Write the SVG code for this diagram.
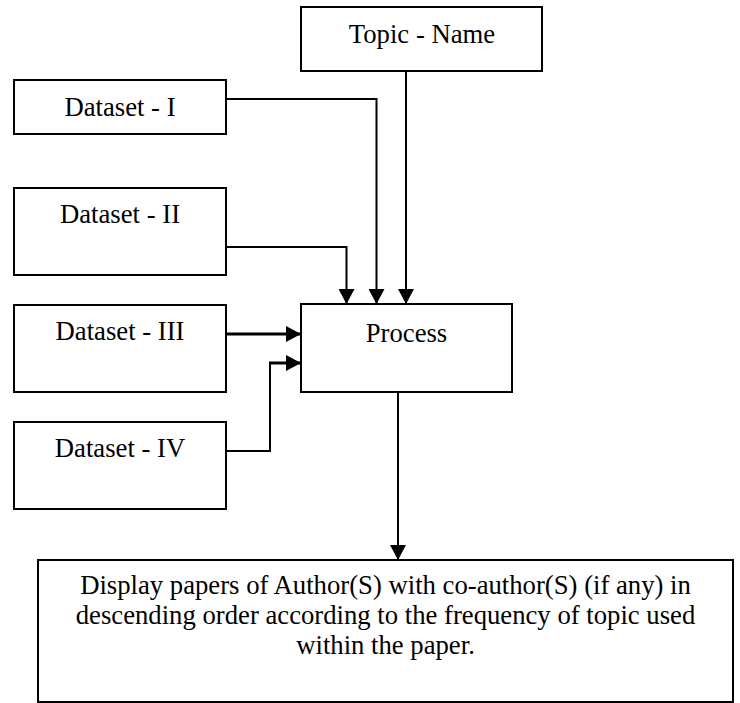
<svg xmlns="http://www.w3.org/2000/svg" width="740" height="703" viewBox="0 0 740 703">
<style>
.box{fill:#fff;stroke:#000;stroke-width:2}
.t{font-family:"Liberation Serif","Times New Roman",serif;font-size:26.7px;fill:#000;text-anchor:middle}
.c{fill:none;stroke:#000;stroke-width:2}
.c3{fill:none;stroke:#000;stroke-width:3}
</style>
<defs>
<marker id="ah" viewBox="0 0 15 16" refX="15" refY="8" markerWidth="15" markerHeight="16" markerUnits="userSpaceOnUse" orient="auto">
<path d="M0,0 L15,8 L0,16 z" fill="#000"/>
</marker>
</defs>
<rect width="740" height="703" fill="#fff"/>
<g id="topic"><rect class="box" x="301" y="7" width="241" height="64"/><text class="t" x="422" y="43">Topic - Name</text></g>
<g id="ds1"><rect class="box" x="14" y="80" width="212" height="54"/><text class="t" x="120" y="116">Dataset - I</text></g>
<g id="ds2"><rect class="box" x="14" y="188" width="212" height="87"/><text class="t" x="120" y="223">Dataset - II</text></g>
<g id="ds3"><rect class="box" x="14" y="305" width="212" height="87"/><text class="t" x="120" y="340">Dataset - III</text></g>
<g id="ds4"><rect class="box" x="14" y="422" width="212" height="87"/><text class="t" x="120" y="457">Dataset - IV</text></g>
<g id="process"><rect class="box" x="301" y="304" width="211" height="88"/><text class="t" x="406.5" y="342">Process</text></g>
<g id="display"><rect class="box" x="38" y="560" width="695" height="142"/>
<text class="t" x="385.5" y="594">Display papers of Author(S) with co-author(S) (if any) in</text>
<text class="t" x="385.5" y="624">descending order according to the frequency of topic used</text>
<text class="t" x="385.5" y="654">within the paper.</text></g>
<g id="connectors">
<path class="c" d="M406,71 V304" marker-end="url(#ah)"/>
<path class="c" d="M226,99 H376.5 V304" marker-end="url(#ah)"/>
<path class="c" d="M226,247 H346.5 V304" marker-end="url(#ah)"/>
<path class="c3" d="M226,334 H301" marker-end="url(#ah)"/>
<path class="c" d="M226,451 H270 V363"/>
<path class="c3" d="M269,363 H301" marker-end="url(#ah)"/>
<path class="c" d="M398,392 V560" marker-end="url(#ah)"/>
</g>
</svg>
